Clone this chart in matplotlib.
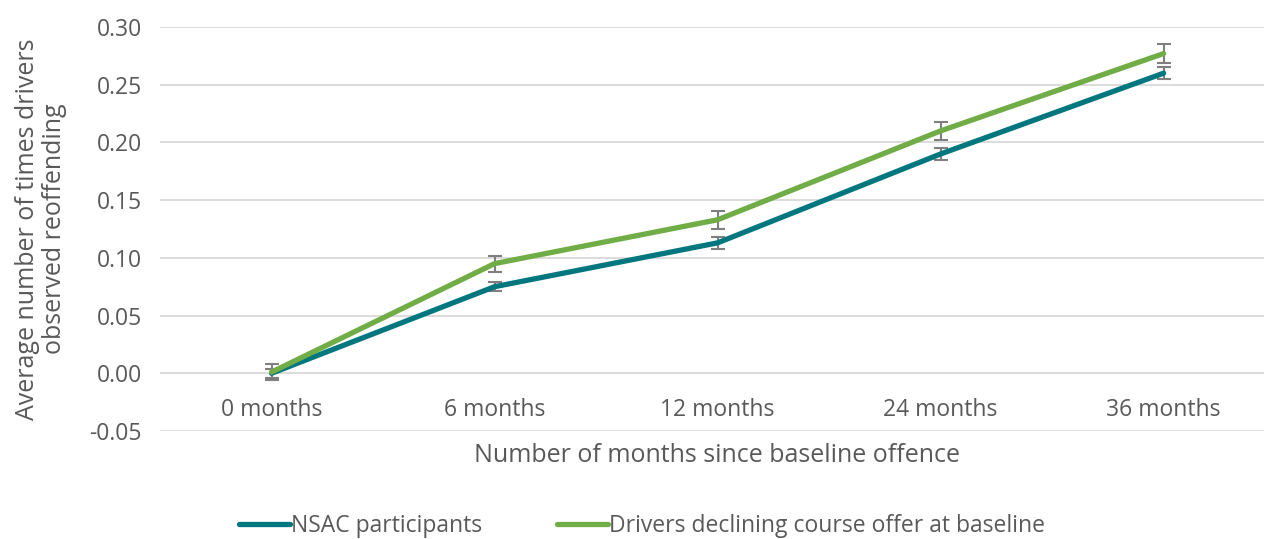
import matplotlib
matplotlib.use("Agg")
import matplotlib.pyplot as plt
from matplotlib.lines import Line2D

categories = ["0 months", "6 months", "12 months", "24 months", "36 months"]
nsac = [0.0, 0.075, 0.113, 0.190, 0.260]
nsac_err = [0.004, 0.004, 0.005, 0.005, 0.005]
decl = [0.001, 0.095, 0.133, 0.210, 0.277]
decl_err = [0.007, 0.007, 0.008, 0.008, 0.008]
yticks = [-0.05, 0.00, 0.05, 0.10, 0.15, 0.20, 0.25, 0.30]

plt.rcParams['font.family'] = ['Open Sans', 'DejaVu Sans']
txt = '#595959'

fig = plt.figure(figsize=(12.64, 5.39), dpi=100)
ax = fig.add_axes([160/1264, 1-431/539, 1-160/1264, (431-27)/539])

x = list(range(len(categories)))
ax.errorbar(x, nsac, yerr=nsac_err, color='#00777F', lw=3.8, ecolor='#7F7F7F',
            elinewidth=1.5, capsize=5, capthick=1.5, label='NSAC participants',
            solid_capstyle='round', zorder=3)
ax.errorbar(x, decl, yerr=decl_err, color='#70AD47', lw=3.8, ecolor='#7F7F7F',
            elinewidth=1.5, capsize=5, capthick=1.5,
            label='Drivers declining course offer at baseline',
            solid_capstyle='round', zorder=3)

ax.set_xlim(-0.5, 4.45)
ax.set_ylim(-0.05, 0.30)
ax.set_yticks(yticks)
ax.set_yticklabels([f"{v:.2f}" for v in yticks])
ax.set_xticks(x)
ax.set_xticklabels(categories)
ax.grid(axis='y', color='#D9D9D9', lw=1.3)
ax.set_axisbelow(True)
for s in ax.spines.values():
    s.set_visible(False)
ax.spines['bottom'].set_position(('data', 0))
ax.tick_params(axis='both', length=0, labelsize=16.5, colors=txt)
ax.tick_params(axis='y', pad=13)
ax.tick_params(axis='x', pad=18)

fig.text(717/1264, 1-456/539, "Number of months since baseline offence", ha='center', va='center',
         fontsize=18, color=txt)
fig.text(41/1264, 1-229/539, "Average number of times drivers\nobserved reoffending", ha='center',
         va='center', rotation=90, fontsize=18, color=txt, linespacing=1.15)

labels = ['NSAC participants', 'Drivers declining course offer at baseline']
hs = [Line2D([], [], color='#00777F', lw=3.8, solid_capstyle='round'),
      Line2D([], [], color='#70AD47', lw=3.8, solid_capstyle='round')]
fig.legend(hs, labels, loc='center', bbox_to_anchor=(0.508, 1-526/539), ncol=2, frameon=False,
           fontsize=16.5, labelcolor=txt, handlelength=2.2, handletextpad=0.05, columnspacing=3.3,
           borderpad=0)

fig.savefig("out.png", dpi=100)
